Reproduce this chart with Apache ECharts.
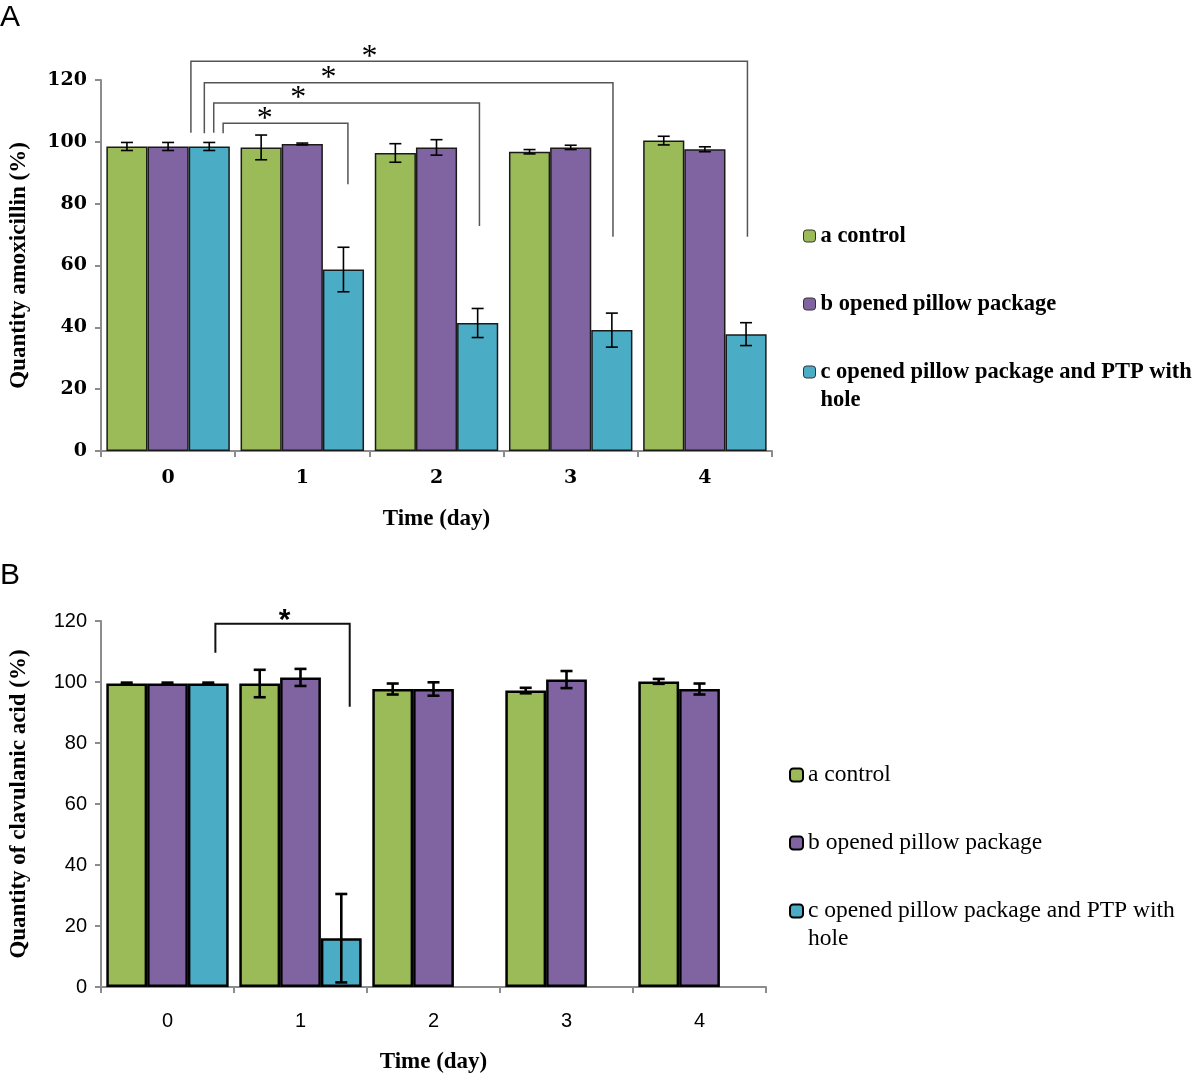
<!DOCTYPE html>
<html><head><meta charset="utf-8">
<script src="https://cdn.jsdelivr.net/npm/echarts@6/dist/echarts.min.js"></script>
<style>html,body{margin:0;padding:0;background:#fff}#c{width:1200px;height:1075px}</style>
</head><body><div id="c"></div>
<script>
// ---------- data ----------
const days = ['0', '1', '2', '3', '4'];
const seriesNames = ['a control', 'b opened pillow package', 'c opened pillow package and PTP with hole'];
const colors = ['#9BBB59', '#8064A2', '#4BACC6'];

// Panel A: amoxicillin (%)
const amoxControl = [98.5, 98.2, 96.4, 96.8, 100.4];
const amoxOpened = [98.5, 99.3, 98.2, 98.2, 97.6];
const amoxHole = [98.5, 58.7, 41.4, 39.1, 37.8];
const amoxControlErr = [1.3, 4.0, 3.0, 0.7, 1.4];
const amoxOpenedErr = [1.3, 0.3, 2.5, 0.7, 0.8];
const amoxHoleErr = [1.3, 7.2, 4.7, 5.5, 3.7];

// Panel B: clavulanic acid (%)
const clavControl = [99.5, 99.5, 97.7, 97.2, 100.2];
const clavOpened = [99.5, 101.5, 97.7, 100.8, 97.7];
const clavHole = [99.5, 16.0, 0, 0, 0];
const clavControlErr = [0.3, 4.5, 1.8, 0.9, 0.8];
const clavOpenedErr = [0.3, 2.8, 2.2, 2.8, 1.8];
const clavHoleErr = [0.3, 14.5, 0, 0, 0];

// significance brackets: [top, fromX, toX, fromBottom, toBottom, starX]  (x in category units)
const bracketsA = [
  [106.0, 0.41, 1.34, 102.8, 86.3, 0.72],
  [112.6, 0.34, 2.32, 102.9, 72.8, 0.97],
  [119.1, 0.27, 3.315, 102.8, 69.3, 1.195],
  [126.1, 0.17, 4.317, 102.9, 69.3, 1.50]
];
const bracketsB = [
  [119.1, 0.36, 1.37, 109.6, 91.9, 0.88]
];
const yTicks = { min: 0, max: 120, interval: 20 };

// ---------- helpers ----------
const valsA = [amoxControl, amoxOpened, amoxHole];
const errsA = [amoxControlErr, amoxOpenedErr, amoxHoleErr];
const valsB = [clavControl, clavOpened, clavHole];
const errsB = [clavControlErr, clavOpenedErr, clavHoleErr];

function errData(vals, errs) {
  const out = [];
  vals.forEach((arr, s) => arr.forEach((v, i) => out.push([i, v, errs[s][i], s])));
  return out;
}
function barData(arr) {
  return arr.map(v => v === 0 ? { value: 0, itemStyle: { borderWidth: 0 } } : v);
}
function errRender(lw, cap) {
  return function (params, api) {
    const cat = api.value(0), val = api.value(1), err = api.value(2), s = api.value(3);
    if (!val) return;
    const cw = api.size([1, 0])[0];
    const bw = cw * 0.92 / 3;
    const x = api.coord([cat, val])[0] + (s - 1) * bw;
    const yt = api.coord([cat, val + err])[1];
    const yb = api.coord([cat, val - err])[1];
    const st = { stroke: '#000', lineWidth: lw };
    return { type: 'group', children: [
      { type: 'line', shape: { x1: x, y1: yt, x2: x, y2: yb }, style: st },
      { type: 'line', shape: { x1: x - cap, y1: yt, x2: x + cap, y2: yt }, style: st },
      { type: 'line', shape: { x1: x - cap, y1: yb, x2: x + cap, y2: yb }, style: st }
    ] };
  };
}
function bracketRender(lw, stroke, font, starOff) {
  return function (params, api) {
    const x0 = api.coord([0, 0])[0];
    const cw = api.size([1, 0])[0];
    const px = v => x0 + v * cw;
    const py = v => api.coord([0, v])[1];
    const top = api.value(1), fx = api.value(2), tx = api.value(3),
          fb = api.value(4), tb = api.value(5), sx = api.value(6);
    return { type: 'group', children: [
      { type: 'polyline', shape: { points: [[px(fx), py(fb)], [px(fx), py(top)], [px(tx), py(top)], [px(tx), py(tb)]] },
        style: { stroke: stroke, lineWidth: lw, fill: null } },
      { type: 'text', style: { text: '*', x: px(sx), y: py(top) - starOff, align: 'center', verticalAlign: 'middle',
        font: font, fill: '#000' } }
    ] };
  };
}
// three-line block so the first text line sits level with the legend icon
function legendFmt(name) {
  return ' \n' + (name.indexOf(' hole') > 0 ? name.replace(' hole', '\nhole') : name + '\n ');
}

const axisGray = '#8c8c8c';
const series = [];
seriesNames.forEach((n, s) => series.push({
  type: 'bar', name: n, xAxisIndex: 0, yAxisIndex: 0, data: barData(valsA[s]),
  barGap: '0%', barCategoryGap: '8%',
  itemStyle: { color: colors[s], borderColor: '#1a1a1a', borderWidth: 1.5 }
}));
seriesNames.forEach((n, s) => series.push({
  type: 'bar', name: n, xAxisIndex: 1, yAxisIndex: 1, data: barData(valsB[s]),
  barGap: '0%', barCategoryGap: '8%',
  itemStyle: { color: colors[s], borderColor: '#000', borderWidth: 2.5 }
}));
series.push({ type: 'custom', xAxisIndex: 0, yAxisIndex: 0, z: 5, clip: false,
  data: errData(valsA, errsA), renderItem: errRender(1.6, 6) });
series.push({ type: 'custom', xAxisIndex: 1, yAxisIndex: 1, z: 5, clip: false,
  data: errData(valsB, errsB), renderItem: errRender(2.6, 6) });
series.push({ type: 'custom', xAxisIndex: 0, yAxisIndex: 0, z: 6, clip: false,
  data: bracketsA.map(b => [0].concat(b)), renderItem: bracketRender(1.5, '#555', '32px "Liberation Serif"', 4) });
series.push({ type: 'custom', xAxisIndex: 1, yAxisIndex: 1, z: 6, clip: false,
  data: bracketsB.map(b => [0].concat(b)), renderItem: bracketRender(2, '#111', 'bold 30px "Liberation Sans"', 3) });

function yAxis(grid, name, labelFont, nameGap) {
  return Object.assign({
    type: 'value', gridIndex: grid, name: name, nameLocation: 'middle', nameGap: nameGap,
    nameTextStyle: { fontFamily: 'Liberation Serif', fontWeight: 'bold', fontSize: 23, color: '#000' },
    axisLine: { show: true, lineStyle: { color: axisGray, width: 2 } },
    axisTick: { show: true, length: 6, lineStyle: { color: axisGray, width: 2 } },
    splitLine: { show: false },
    axisLabel: Object.assign({ color: '#000', margin: 14 }, labelFont)
  }, yTicks);
}
function xAxis(grid, labelFont, margin, nameGap) {
  return {
    type: 'category', gridIndex: grid, data: days, name: 'Time (day)', nameLocation: 'middle', nameGap: nameGap,
    nameTextStyle: { fontFamily: 'Liberation Serif', fontWeight: 'bold', fontSize: 23, color: '#000' },
    axisLine: { show: true, lineStyle: { color: axisGray, width: 2 } },
    axisTick: { show: true, length: 6, alignWithLabel: false, lineStyle: { color: axisGray, width: 2 } },
    axisLabel: Object.assign({ color: '#000', margin: margin }, labelFont)
  };
}

const fontA = { fontFamily: 'DejaVu Serif', fontWeight: 'bold', fontSize: 19 };
const fontB = { fontFamily: 'Liberation Sans', fontSize: 20 };

const option = {
  animation: false,
  backgroundColor: '#fff',
  title: [
    { text: 'A', left: 0, top: 3, padding: 0, textStyle: { fontFamily: 'Liberation Sans', fontWeight: 'normal', fontSize: 30, color: '#000' } },
    { text: 'B', left: 0, top: 561, padding: 0, textStyle: { fontFamily: 'Liberation Sans', fontWeight: 'normal', fontSize: 30, color: '#000' } }
  ],
  legend: [
    { orient: 'vertical', left: 803, top: 194, padding: 0, itemGap: -16, itemWidth: 12, itemHeight: 12,
      data: seriesNames, formatter: legendFmt, selectedMode: false,
      itemStyle: { borderColor: '#333', borderWidth: 1 },
      textStyle: { fontFamily: 'Liberation Serif', fontWeight: 'bold', fontSize: 22.5, lineHeight: 28, color: '#000' } },
    { orient: 'vertical', left: 789, top: 733, padding: 0, itemGap: -16, itemWidth: 13, itemHeight: 13,
      data: seriesNames, formatter: legendFmt, selectedMode: false,
      itemStyle: { borderColor: '#000', borderWidth: 2 },
      textStyle: { fontFamily: 'Liberation Serif', fontSize: 23.5, lineHeight: 28, color: '#000' } }
  ],
  grid: [
    { left: 100, top: 80, width: 672, height: 371 },
    { left: 100, top: 621, width: 666, height: 366 }
  ],
  xAxis: [xAxis(0, fontA, 18, 57), xAxis(1, fontB, 24, 64)],
  yAxis: [yAxis(0, 'Quantity amoxicillin (%)', fontA, 70), yAxis(1, 'Quantity of clavulanic acid (%)', fontB, 70)],
  series: series
};
echarts.init(document.getElementById('c')).setOption(option);
</script>
</body></html>
